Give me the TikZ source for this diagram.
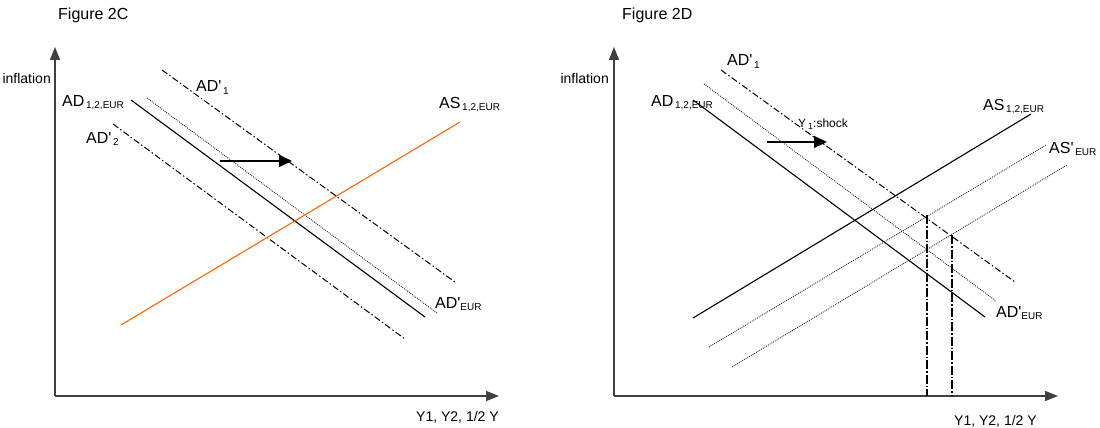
\documentclass[tikz,border=0pt]{standalone}
\usepackage{fontspec}
\setmainfont{Liberation Sans}
\usetikzlibrary{arrows.meta}
\newcommand{\bigsub}[3]{{\fontsize{16}{16}\selectfont #1}#2\raisebox{-2pt}{\fontsize{10}{10}\selectfont #3}}
\newcommand{\ap}{\textquotesingle}
\begin{document}
\begin{tikzpicture}[x=1pt,y=-1pt,
  axisline/.style={draw=black!75, line width=1.4pt, -{Triangle[length=13pt,width=10pt]}},
  solidcurve/.style={line width=1.1pt},
  orangecurve/.style={line width=1.1pt, draw={rgb,255:red,255;green,102;blue,0}},
  dotcurve/.style={line width=0.9pt, dash pattern=on 0.9pt off 1.1pt, draw=black!85},
  dashdotcurve/.style={line width=1pt, dash pattern=on 6.5pt off 2.5pt on 1.5pt off 2.5pt},
  vdashdot/.style={line width=1.2pt, dash pattern=on 9pt off 2pt on 1.5pt off 2pt},
  shiftarrow/.style={line width=1.1pt, -{Triangle[length=13pt,width=12pt]}},
  lbl/.style={inner sep=0pt, anchor=base west},
  lble/.style={inner sep=0pt, anchor=base east},
  titlefont/.style={font=\fontsize{16}{16}\selectfont},
  axisfont/.style={font=\fontsize{14}{14}\selectfont},
  smallfont/.style={font=\fontsize{12}{12}\selectfont}]
\useasboundingbox (0,0) rectangle (1100,428);

% ---------------- Figure 2C ----------------
\node[lbl,titlefont] (t1) at (58,20) {Figure 2C};
\coordinate (o1) at (55,396);
\coordinate (y1top) at (55,47);
\coordinate (x1end) at (499,396);
\draw[axisline] (o1) -- (y1top);
\draw[axisline] (o1) -- (x1end);
\node[lble,axisfont] (inf1) at (51,84) {inflation};
\node[lbl,axisfont] (xl1) at (416,421) {Y1, Y2, 1/2 Y};

\coordinate (ad1a) at (131,100); \coordinate (ad1b) at (425,317);
\coordinate (adeur1a) at (147,98); \coordinate (adeur1b) at (437,313);
\coordinate (adp1a) at (162,70); \coordinate (adp1b) at (455,282);
\coordinate (adp2a) at (113,124); \coordinate (adp2b) at (405,339);
\coordinate (as1a) at (121,325); \coordinate (as1b) at (460,122);
\coordinate (ar1a) at (220,161); \coordinate (ar1b) at (292,161);

\draw[solidcurve] (ad1a) -- (ad1b);
\draw[dotcurve] (adeur1a) -- (adeur1b);
\draw[dashdotcurve] (adp1a) -- (adp1b);
\draw[dashdotcurve] (adp2a) -- (adp2b);
\draw[orangecurve] (as1a) -- (as1b);
\draw[shiftarrow] (ar1a) -- (ar1b);

\node[lbl] (lad1) at (62,106) {\bigsub{AD}{\,}{1,2,EUR}};
\node[lbl] (ladp1) at (196,92) {\bigsub{AD\ap}{\,}{1}};
\node[lbl] (ladp2) at (86,143) {\bigsub{AD\ap}{\,}{2}};
\node[lbl] (las1) at (439,108) {\bigsub{AS}{\,}{1,2,EUR}};
\node[lbl] (ladeur1) at (435,308) {\bigsub{AD\ap}{}{EUR}};

% ---------------- Figure 2D ----------------
\node[lbl,titlefont] (t2) at (622,20) {Figure 2D};
\coordinate (o2) at (614,396);
\coordinate (y2top) at (614,47);
\coordinate (x2end) at (1058,396);
\draw[axisline] (o2) -- (y2top);
\draw[axisline] (o2) -- (x2end);
\node[lble,axisfont] (inf2) at (609,84) {inflation};
\node[lbl,axisfont] (xl2) at (954,425) {Y1, Y2, 1/2 Y};

\coordinate (ad2a) at (693,100); \coordinate (ad2b) at (985,317);
\coordinate (adeur2a) at (704,84); \coordinate (adeur2b) at (996,301);
\coordinate (adp21a) at (721,70); \coordinate (adp21b) at (1015,282);
\coordinate (as2a) at (693,318); \coordinate (as2b) at (1031,114);
\coordinate (asp2a) at (709,347); \coordinate (asp2b) at (1046,145);
\coordinate (asq2a) at (732,367); \coordinate (asq2b) at (1067,165);
\coordinate (ar2a) at (767,142); \coordinate (ar2b) at (827,142);
\coordinate (v1top) at (927,215); \coordinate (v1bot) at (927,396);
\coordinate (v2top) at (952,235); \coordinate (v2bot) at (952,396);

\draw[solidcurve] (ad2a) -- (ad2b);
\draw[dotcurve] (adeur2a) -- (adeur2b);
\draw[dashdotcurve] (adp21a) -- (adp21b);
\draw[solidcurve] (as2a) -- (as2b);
\draw[dotcurve] (asp2a) -- (asp2b);
\draw[dotcurve] (asq2a) -- (asq2b);
\draw[shiftarrow] (ar2a) -- (ar2b);
\draw[vdashdot] (v1top) -- (v1bot);
\draw[vdashdot] (v2top) -- (v2bot);

\node[lbl] (lad2) at (651,106) {\bigsub{AD}{\,}{1,2,EUR}};
\node[lbl] (ladp21) at (727,66) {\bigsub{AD\ap}{\,}{1}};
\node[lbl,smallfont] (lshock) at (798,127) {Y\,\raisebox{-2pt}{\fontsize{9}{9}\selectfont 1}:shock};
\node[lbl] (las2) at (983,110) {\bigsub{AS}{\,}{1,2,EUR}};
\node[lbl] (lasp2) at (1049,153) {\bigsub{AS\ap}{\,}{EUR}};
\node[lbl] (ladeur2) at (996,317) {\bigsub{AD\ap}{}{EUR}};
\end{tikzpicture}
\end{document}
